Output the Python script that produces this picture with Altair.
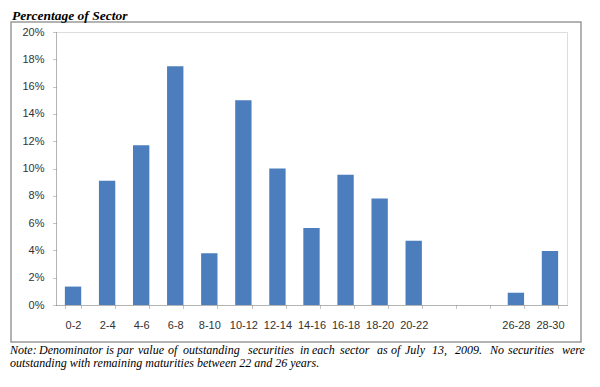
import altair as alt
import pandas as pd

categories = ["0-2", "2-4", "4-6", "6-8", "8-10", "10-12", "12-14", "14-16",
              "16-18", "18-20", "20-22", "22-24", "24-26", "26-28", "28-30"]
shares = [1.35, 9.1, 11.7, 17.5, 3.8, 15.0, 10.0, 5.65, 9.55, 7.8, 4.7,
          0.0, 0.0, 0.9, 3.95]
y_ticks = [0, 2, 4, 6, 8, 10, 12, 14, 16, 18, 20]

title_text = "Percentage of Sector"
# first note line is justified in the reference: set word by word
note_line1_words = ["Note:", "Denominator", "is", "par", "value", "of", "outstanding",
                    "securities", "in", "each", "sector", "as", "of", "July", "13,",
                    "2009.", "No", "securities", "were"]
note_line1_starts = [10, 39, 106, 117, 138, 168, 183, 248, 300, 312, 340, 377, 391,
                     405, 432, 455, 490, 508, 562]
note_line2 = "outstanding with remaining maturities between 22 and 26 years."

df = pd.DataFrame({"maturity": categories, "share": shares})

W, H = 511, 273
PLOT_X0 = 56  # page x of the plot's left edge
label_font = "Liberation Sans"
serif = "Liberation Serif, Times New Roman, DejaVu Serif, serif"

bars = alt.Chart(df).mark_bar(color="#4c7ebe").encode(
    x=alt.X("maturity:N", sort=categories,
            scale=alt.Scale(domain=categories, paddingInner=0.52, paddingOuter=0.26),
            axis=alt.Axis(title=None, labelAngle=0, tickBand="extent",
                          labelExpr="(datum.value == '22-24' || datum.value == '24-26') ? '' : datum.value",
                          labelFont=label_font, labelFontSize=11, labelColor="#333333",
                          labelPadding=10, tickSize=4, tickColor="#8a8a8a", tickDash=[1, 1],
                          domainColor="#8a8a8a", domainDash=[1, 1], grid=False)),
    y=alt.Y("share:Q",
            scale=alt.Scale(domain=[0, 20], nice=False),
            axis=alt.Axis(title=None, values=y_ticks, labelExpr="datum.value + '%'",
                          labelFont=label_font, labelFontSize=11, labelColor="#333333",
                          labelPadding=8, tickSize=4, tickColor="#8a8a8a", tickDash=[1, 1],
                          domainColor="#8a8a8a", domainDash=[1, 1], grid=False)),
)

frame = alt.Chart(pd.DataFrame({"k": [0]})).mark_rect(
    fill=None, stroke="#9a9a9a", strokeWidth=1.5
).encode(x=alt.value(-45), x2=alt.value(525), y=alt.value(-10), y2=alt.value(310))

def text_layer(txt, x, y, size, weight="normal", style="italic", align="left"):
    return alt.Chart(pd.DataFrame({"k": [0]})).mark_text(
        font=serif, fontSize=size, fontStyle=style, fontWeight=weight,
        align=align, baseline="alphabetic", color="#000000"
    ).encode(x=alt.value(x), y=alt.value(y), text=alt.value(txt))

title = text_layer(title_text, -44, -12.5, 13.5, weight="bold")
line1 = [text_layer(t, x - PLOT_X0, 322, 12) for t, x in zip(note_line1_words, note_line1_starts)]
n2 = text_layer(note_line2, -46, 335, 12)

chart = alt.layer(frame, bars, title, *line1, n2).properties(
    width=W, height=H,
    autosize=alt.AutoSizeParams(type="none"),
    padding={"left": 48, "top": 24, "right": 25, "bottom": 74},
).configure_view(stroke=None).configure(background="white")

chart.save("out.html", embed_options={"renderer": "svg", "actions": False})
